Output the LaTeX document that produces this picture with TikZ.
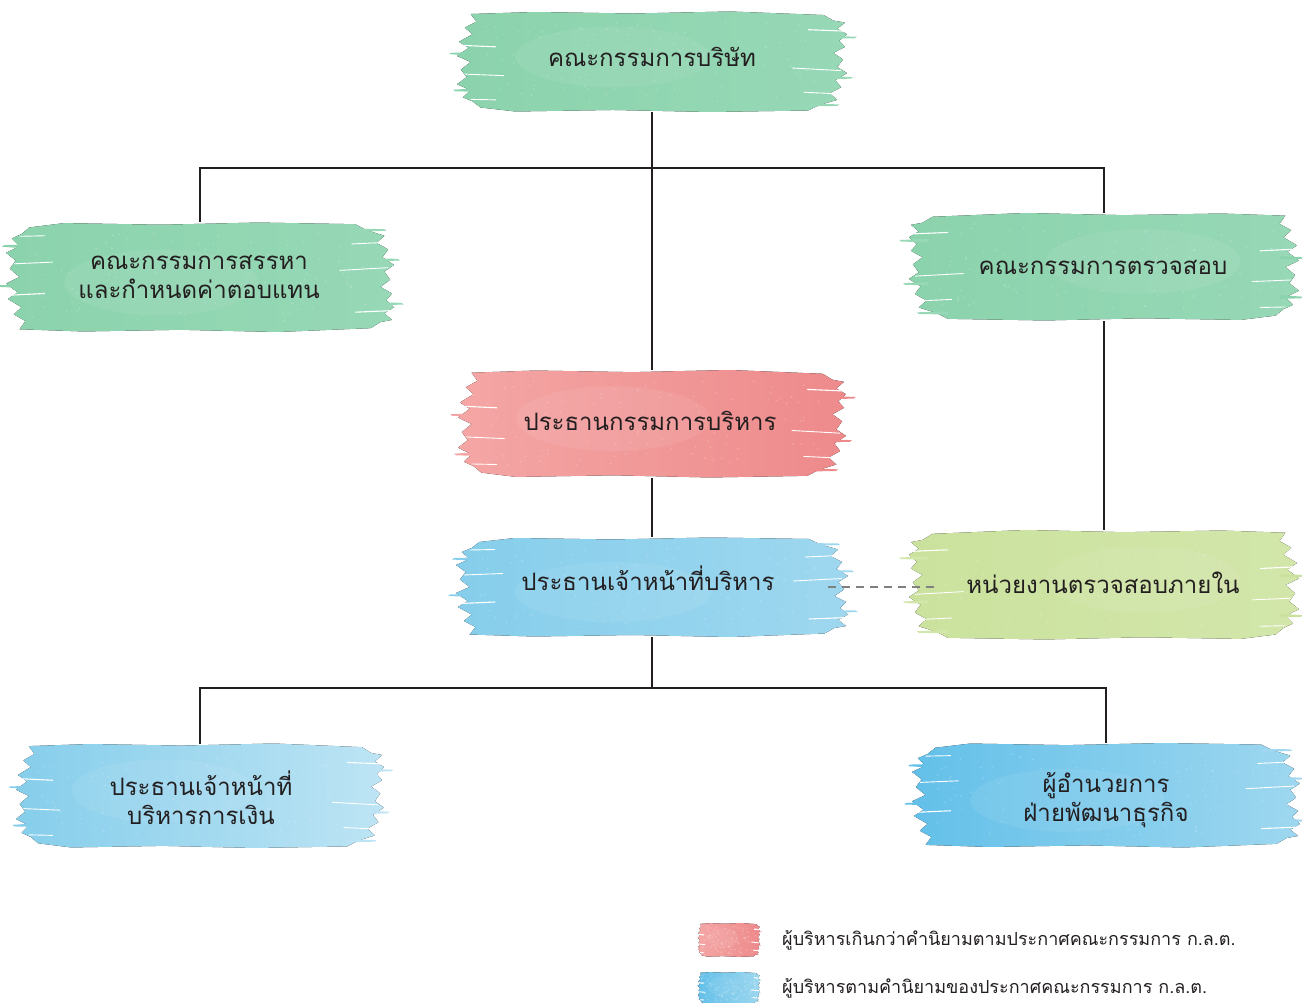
\documentclass[tikz,border=0pt]{standalone}
\usepackage{fontspec}
\newfontfamily\thaifont[Script=Thai]{Loma}
\definecolor{ink}{HTML}{231F20}
\definecolor{mintA}{HTML}{8BD3AD}
\definecolor{mintB}{HTML}{97D8B6}
\definecolor{roseA}{HTML}{F4A6A5}
\definecolor{roseB}{HTML}{EE8A8B}
\definecolor{skyA}{HTML}{86CEEB}
\definecolor{skyB}{HTML}{9ED7EF}
\definecolor{skyC}{HTML}{63C0E9}
\definecolor{skyD}{HTML}{BDE4F4}
\definecolor{limeA}{HTML}{CBE29E}
\definecolor{limeB}{HTML}{D2E6AA}
\definecolor{dashgray}{HTML}{808080}

% ragged watercolour stroke as an empty named node: name, cx, cy, w, h, colour left, colour right, extra scope options
\newcommand{\brushnode}[8]{%
  \begin{scope}[shift={(#2,#3)}, xscale=#4/2, yscale=#5/2, #8]
    \fill[left color=#6, right color=#7]
      (-0.93,-0.95) -- (-0.6,-0.99) -- (-0.1,-0.96) -- (0.4,-1.0) -- (0.88,-0.93)
      -- (0.93,-0.82) -- (0.99,-0.78) -- (0.95,-0.66) -- (1.0,-0.55) -- (0.96,-0.42)
      -- (0.99,-0.3) -- (0.93,-0.18) -- (0.98,-0.05) -- (0.95,0.1) -- (1.0,0.22)
      -- (0.94,0.36) -- (0.97,0.5) -- (0.91,0.62) -- (0.95,0.75) -- (0.86,0.85)
      -- (0.8,0.96) -- (0.3,0.99) -- (-0.2,0.95) -- (-0.7,0.98) -- (-0.88,0.9)
      -- (-0.92,0.78) -- (-0.97,0.7) -- (-0.93,0.56) -- (-1.0,0.44) -- (-0.95,0.3)
      -- (-0.98,0.15) -- (-0.93,0.0) -- (-1.0,-0.12) -- (-0.94,-0.28) -- (-0.99,-0.4)
      -- (-0.92,-0.55) -- (-0.96,-0.68) -- (-0.9,-0.8) -- cycle;
    % loose bristle streaks at the ends
    \fill[#7] (0.9,-0.52) -- (1.05,-0.5) -- (1.04,-0.47) -- (0.9,-0.46) -- cycle;
    \fill[#7] (0.9,0.28) -- (1.03,0.3) -- (1.02,0.33) -- (0.9,0.34) -- cycle;
    \fill[#7] (0.8,0.82) -- (0.96,0.84) -- (0.95,0.87) -- (0.8,0.88) -- cycle;
    \fill[#6] (-0.9,-0.2) -- (-1.04,-0.18) -- (-1.03,-0.15) -- (-0.9,-0.14) -- cycle;
    \fill[#6] (-0.9,0.52) -- (-1.02,0.55) -- (-1.01,0.58) -- (-0.9,0.59) -- cycle;
    % dry-brush gaps
    \draw[white, line width=1.1pt] (0.8,-0.64) -- (1.0,-0.61);
    \draw[white, line width=0.9pt] (0.72,0.12) -- (0.97,0.17);
    \draw[white, line width=0.9pt] (0.78,0.6) -- (0.96,0.63);
    \draw[white, line width=1.1pt] (-0.98,-0.33) -- (-0.8,-0.3);
    \draw[white, line width=0.9pt] (-0.96,0.24) -- (-0.76,0.27);
    \draw[white, line width=0.9pt] (-0.93,0.74) -- (-0.8,0.75);
    % soft bloom
    \fill[white, opacity=0.07] (-0.2,-0.1) ellipse (0.5 and 0.6);
  \end{scope}
  % paper grain
  \pgfmathsetseed{#2#3}
  \foreach \k in {1,...,90}{
    \fill[white, opacity=0.22] ({#2+0.44*#4*rand},{#3+0.4*#5*rand}) circle (0.9pt);
  }
  \node[brushbox, minimum width=#4pt, minimum height=#5pt] (#1) at (#2,#3) {};}

\tikzset{
  brushbox/.style={inner sep=0pt, outer sep=0pt, draw=none},
  orgtext/.style={inner sep=0pt, text=ink, align=center,
    font=\thaifont\fontsize{24}{29}\selectfont},
  legtext/.style={inner sep=0pt, text=ink, anchor=west,
    font=\thaifont\fontsize{18}{22}\selectfont},
  conn/.style={draw=ink, line width=1.2pt},
  dotted link/.style={draw=dashgray, line width=1.2pt, dash pattern=on 8pt off 6pt}
}

\begin{document}
\begin{tikzpicture}[x=1pt, y=-1pt]
  \useasboundingbox (0,0) rectangle (1302,1003);

  % --- watercolour strokes (named) ---
  \brushnode{board}{652}{62}{390}{101}{mintA}{mintB}{}
  \brushnode{nom}{200}{277}{388}{110}{mintA}{mintB}{yscale=-1}
  \brushnode{audit}{1104}{267}{390}{108}{mintA}{mintB}{xscale=-1}
  \brushnode{exec}{652}{424}{388}{108}{roseA}{roseB}{}
  \brushnode{ceo}{652}{587}{392}{100}{skyA}{skyB}{yscale=-1}
  \brushnode{intaudit}{1104}{585}{390}{110}{limeA}{limeB}{xscale=-1}
  \brushnode{cfo}{200}{796}{368}{105}{skyA}{skyD}{}
  \brushnode{bizdev}{1106}{795}{388}{105}{skyC}{skyB}{yscale=-1}
  \brushnode{swatchA}{729}{940}{62}{34}{roseA}{roseB}{}
  \brushnode{swatchB}{729}{988}{62}{32}{skyC}{skyB}{}

  % --- titles ---
  \node[orgtext] (board-t) at (652,57) {คณะกรรมการบริษัท};
  \node[orgtext] (nom-t) at (199,277) {คณะกรรมการสรรหา\\และกำหนดค่าตอบแทน};
  \node[orgtext] (audit-t) at (1103,267) {คณะกรรมการตรวจสอบ};
  \node[orgtext] (exec-t) at (650,421) {ประธานกรรมการบริหาร};
  \node[orgtext] (ceo-t) at (648,578) {ประธานเจ้าหน้าที่บริหาร};
  \node[orgtext] (intaudit-t) at (1103,583) {หน่วยงานตรวจสอบภายใน};
  \node[orgtext] (cfo-t) at (201,798) {ประธานเจ้าหน้าที่\\บริหารการเงิน};
  \node[orgtext] (bizdev-t) at (1106,800) {ผู้อำนวยการ\\ฝ่ายพัฒนาธุรกิจ};

  % --- legend ---
  \node[legtext] (legA) at (782,940) {ผู้บริหารเกินกว่าคำนิยามตามประกาศคณะกรรมการ ก.ล.ต.};
  \node[legtext] (legB) at (782,988) {ผู้บริหารตามคำนิยามของประกาศคณะกรรมการ ก.ล.ต.};

  % --- reporting lines ---
  \coordinate (bus1) at (652,168);
  \coordinate (bus2) at (652,688);
  \draw[conn] (board.south) -- (exec.north);
  \draw[conn] (nom.north) |- (bus1) -| (audit.north);
  \draw[conn] (exec.south) -- (ceo.north);
  \draw[conn] (audit.south) -- (intaudit.north);
  \draw[dotted link, shorten <=-20pt, shorten >=-30pt] (ceo.east) -- (ceo.east -| intaudit.west);
  \draw[conn] (ceo.south) -- (bus2);
  \draw[conn] (cfo.north) |- (bus2) -| (bizdev.north);
\end{tikzpicture}
\end{document}
